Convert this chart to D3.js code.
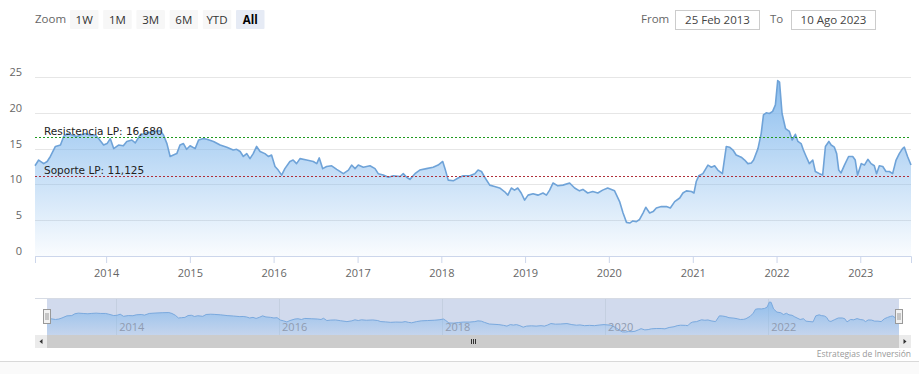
<!DOCTYPE html>
<html>
<head>
<meta charset="utf-8">
<script src="https://cdn.jsdelivr.net/npm/d3@7"></script>
<style>
  html, body { margin: 0; padding: 0; background: #fff; }
  svg { display: block; }
</style>
</head>
<body>
<svg id="chart" width="919" height="374"></svg>
<script>
// price series
const dates = [
  '2013-02-25','2013-03-13','2013-04-04','2013-04-19','2013-05-03','2013-05-25','2013-06-16','2013-06-30',
  '2013-07-15','2013-08-06','2013-08-27','2013-09-11','2013-10-03','2013-10-24','2013-11-15','2013-11-29',
  '2013-12-21','2014-01-05','2014-01-19','2014-02-03','2014-02-24','2014-03-17','2014-04-01','2014-04-23',
  '2014-05-08','2014-05-29','2014-06-28','2014-07-26','2014-08-25','2014-09-08','2014-09-23','2014-10-07',
  '2014-10-21','2014-11-05','2014-11-19','2014-12-04','2014-12-18','2015-01-02','2015-01-24','2015-02-08',
  '2015-03-01','2015-03-16','2015-04-14','2015-05-13','2015-06-11','2015-07-09','2015-07-24','2015-08-08',
  '2015-08-22','2015-09-06','2015-09-20','2015-10-04','2015-10-19','2015-11-03','2015-11-24','2015-12-09',
  '2015-12-23','2016-01-07','2016-01-21','2016-02-05','2016-02-19','2016-03-12','2016-03-26','2016-04-10',
  '2016-04-25','2016-05-24','2016-06-22','2016-07-07','2016-07-18','2016-08-02','2016-08-19','2016-09-10',
  '2016-10-02','2016-10-31','2016-11-22','2016-12-06','2016-12-21','2017-01-04','2017-01-26','2017-02-24',
  '2017-03-18','2017-04-01','2017-04-23','2017-05-15','2017-06-06','2017-07-05','2017-07-19','2017-08-03',
  '2017-08-17','2017-09-08','2017-09-29','2017-10-28','2017-11-26','2017-12-18','2018-01-07','2018-01-17',
  '2018-01-31','2018-02-22','2018-03-15','2018-04-06','2018-05-05','2018-05-27','2018-06-10','2018-06-25',
  '2018-07-09','2018-07-31','2018-08-21','2018-09-12','2018-10-03','2018-10-18','2018-11-02','2018-11-16',
  '2018-11-30','2018-12-15','2018-12-30','2019-01-14','2019-02-05','2019-02-26','2019-03-20','2019-04-04',
  '2019-04-18','2019-05-03','2019-05-24','2019-06-15','2019-07-14','2019-08-05','2019-08-26','2019-09-10',
  '2019-10-01','2019-10-23','2019-11-14','2019-12-05','2019-12-27','2020-01-26','2020-02-17','2020-03-03',
  '2020-03-18','2020-04-01','2020-04-15','2020-04-30','2020-05-14','2020-05-29','2020-06-10','2020-06-27',
  '2020-07-12','2020-07-26','2020-08-17','2020-09-08','2020-09-25','2020-10-14','2020-11-05','2020-11-19',
  '2020-12-04','2020-12-26','2021-01-06','2021-01-16','2021-01-27','2021-02-14','2021-03-08','2021-03-23',
  '2021-04-06','2021-04-20','2021-05-10','2021-05-27','2021-06-10','2021-06-25','2021-07-09','2021-07-31',
  '2021-08-15','2021-08-29','2021-09-13','2021-09-23','2021-10-12','2021-10-26','2021-11-05','2021-11-17',
  '2021-12-01','2021-12-15','2021-12-27','2022-01-06','2022-01-14','2022-01-25','2022-02-09','2022-02-26',
  '2022-03-10','2022-03-24','2022-04-04','2022-04-18','2022-04-28','2022-05-10','2022-05-24','2022-06-08',
  '2022-06-19','2022-07-07','2022-07-21','2022-08-02','2022-08-17','2022-08-27','2022-09-10','2022-09-20',
  '2022-09-29','2022-10-09','2022-10-24','2022-11-11','2022-11-29','2022-12-10','2022-12-20','2023-01-05',
  '2023-01-19','2023-02-03','2023-02-17','2023-03-03','2023-03-13','2023-03-25','2023-04-09','2023-04-23',
  '2023-05-08','2023-05-22','2023-06-06','2023-06-20','2023-07-04','2023-07-12','2023-07-26','2023-08-10'
];
const prices = [
  12.6,13.4,12.9,13.2,13.9,15.3,15.5,16.7, 17.1,16.9,16.7,16.9,17.1,16.9,16.9,16.4,
  15.5,15.7,16.4,15.0,15.5,15.4,16.0,16.2, 15.8,16.9,17.2,17.4,17.5,16.9,15.7,13.9,
  14.1,14.3,15.5,15.7,14.9,15.4,15.0,16.2, 16.4,16.3,16.0,15.5,15.2,14.8,14.9,14.6,
  13.9,14.3,13.6,14.3,15.3,14.6,14.3,13.9, 14.1,12.5,12.0,11.3,12.2,13.2,13.4,12.9,
  13.6,13.4,13.2,12.9,13.7,12.2,12.5,12.6, 12.1,11.5,12.0,12.7,12.2,12.7,12.4,12.6,
  12.2,11.5,11.3,11.0,11.2,11.1,11.5,11.0, 10.7,11.5,12.0,12.2,12.4,12.7,13.2,12.2,
  10.6,10.5,10.9,11.2,11.2,11.5,12.0,11.8, 11.0,9.9,9.7,9.5,9.0,8.5,9.5,9.2,
  9.5,8.8,7.8,8.5,8.7,8.5,8.8,8.5, 9.2,10.2,9.8,9.9,10.2,9.5,9.1,9.3,
  8.8,9.0,8.8,9.2,9.5,9.1,7.6,6.0, 4.7,4.6,4.9,4.8,5.1,6.0,6.8,6.0,
  6.2,6.7,6.9,6.9,6.7,7.6,8.1,8.8, 9.1,9.0,8.8,10.4,11.2,11.5,12.7,12.4,
  12.6,12.0,11.5,15.3,15.2,14.8,14.1,13.8, 13.4,12.9,13.0,13.4,15.0,17.1,19.7,20.0,
  19.9,20.2,21.1,24.5,24.3,19.9,17.8,17.4, 16.2,17.0,16.0,15.7,14.8,13.9,12.9,13.4,
  11.8,11.5,11.3,15.3,16.0,15.5,15.2,14.3, 12.0,11.6,12.7,13.9,13.9,13.4,11.3,12.9,
  12.7,13.5,12.9,12.6,11.5,12.6,12.5,11.8, 11.8,11.5,13.4,14.3,15.0,15.2,13.9,12.7
];

const resistance = { label: 'Resistencia LP: 16,680', value: 16.68 };
const support = { label: 'Soporte LP: 11,125', value: 11.125 };
const yTicks = [0, 5, 10, 15, 20, 25];
const navTickYears = [2014, 2016, 2018, 2020, 2022];
const zoomButtons = ['1W', '1M', '3M', '6M', 'YTD', 'All'];
const fromText = '25 Feb 2013';
const toText = '10 Ago 2023';
const creditText = 'Estrategias de Inversión';

const parse = d3.timeParse('%Y-%m-%d');
const series = dates.map((d, i) => ({ date: parse(d), value: prices[i] }));

const svg = d3.select('#chart');
const uiFont = '"Open Sans", sans-serif';
const lineColor = '#6fa3d8';

// layout
const plot = { left: 35, right: 911, top: 77, bottom: 256 };
const nav = { left: 47, right: 899, top: 299, bottom: 335 };
const sb = { top: 335, bottom: 348 };

const x = d3.scaleTime()
  .domain(d3.extent(series, d => d.date))
  .range([plot.left, plot.right]);
const y = d3.scaleLinear().domain([0, 25]).range([plot.bottom, plot.top]);

// bottom strip
svg.append('rect').attr('x', 0).attr('y', 361).attr('width', 919).attr('height', 13).attr('fill', '#fafafa');
svg.append('line').attr('x1', 0).attr('x2', 919).attr('y1', 361.5).attr('y2', 361.5)
  .style('stroke', '#d9d9d9');

// range selector
svg.append('text').attr('x', 35).attr('y', 23).text('Zoom')
  .style('font-family', uiFont).style('font-size', '11.5px').style('fill', '#666');
const btn = svg.selectAll('g.btn').data(zoomButtons).enter().append('g')
  .attr('class', 'btn')
  .attr('transform', (d, i) => `translate(${70 + i * 33.2},10)`);
btn.append('rect').attr('width', 28.5).attr('height', 19).attr('rx', 1)
  .attr('fill', d => d === 'All' ? '#e6ebf5' : '#f7f7f7');
btn.append('text').attr('x', 14.2).attr('y', 13.5).attr('text-anchor', 'middle')
  .text(d => d)
  .style('font-family', uiFont).style('font-size', '11.5px')
  .style('font-weight', d => d === 'All' ? 'bold' : 'normal')
  .style('fill', d => d === 'All' ? '#000' : '#333');

const inputs = [
  { label: 'From', lx: 641, bx: 675, text: fromText },
  { label: 'To', lx: 770, bx: 791, text: toText }
];
inputs.forEach(o => {
  svg.append('text').attr('x', o.lx).attr('y', 23).text(o.label)
    .style('font-family', uiFont).style('font-size', '11.5px').style('fill', '#666');
  svg.append('rect').attr('x', o.bx + 0.5).attr('y', 10.5).attr('width', 84).attr('height', 19)
    .attr('fill', '#fff').style('stroke', '#cccccc');
  svg.append('text').attr('x', o.bx + 42.5).attr('y', 24).attr('text-anchor', 'middle').text(o.text)
    .style('font-family', uiFont).style('font-size', '11.5px').style('fill', '#444');
});

// gridlines + y labels
svg.append('g').selectAll('line').data(yTicks).enter().append('line')
  .attr('x1', plot.left).attr('x2', plot.right)
  .attr('y1', d => Math.round(y(d)) + 0.5).attr('y2', d => Math.round(y(d)) + 0.5)
  .style('stroke', '#e6e6e6');
svg.append('g').selectAll('text').data(yTicks).enter().append('text')
  .attr('x', 22).attr('y', d => y(d) - 1).attr('text-anchor', 'end')
  .text(d => d)
  .style('font-family', uiFont).style('font-size', '11px').style('fill', '#666');

// area gradient
const defs = svg.append('defs');
const grad = defs.append('linearGradient').attr('id', 'areaGrad')
  .attr('gradientUnits', 'userSpaceOnUse')
  .attr('x1', 0).attr('x2', 0).attr('y1', plot.top).attr('y2', plot.bottom);
grad.append('stop').attr('offset', 0).attr('stop-color', '#7cb5ec').attr('stop-opacity', 0.9);
grad.append('stop').attr('offset', 1).attr('stop-color', '#7cb5ec').attr('stop-opacity', 0.04);

const area = d3.area().x(d => x(d.date)).y0(plot.bottom).y1(d => y(d.value));
const line = d3.line().x(d => x(d.date)).y(d => y(d.value));
svg.append('path').datum(series).attr('d', area).attr('fill', 'url(#areaGrad)');
svg.append('path').datum(series).attr('d', line)
  .attr('fill', 'none').style('stroke', lineColor).style('stroke-width', 1.6)
  .style('stroke-linejoin', 'round');

// x axis
const xAxis = d3.axisBottom(x).ticks(d3.timeYear.every(1)).tickFormat(d3.timeFormat('%Y'))
  .tickSize(7).tickPadding(6);
const gx = svg.append('g').attr('transform', `translate(0,${plot.bottom})`).call(xAxis);
gx.select('.domain').style('stroke', '#ccd6eb');
gx.selectAll('.tick line').style('stroke', '#ccd6eb');
gx.selectAll('.tick text').style('font-family', uiFont).style('font-size', '11px').style('fill', '#666');
gx.selectAll('.tick').filter(d => d.getFullYear() === 2013).remove();

// support / resistance
[
  { lvl: resistance, color: '#1e9a1e' },
  { lvl: support, color: '#b0303a' }
].forEach(o => {
  const yy = Math.round(y(o.lvl.value)) + 0.5;
  svg.append('line').attr('x1', plot.left).attr('x2', plot.right).attr('y1', yy).attr('y2', yy)
    .style('stroke', o.color).style('stroke-width', 1).style('stroke-dasharray', '2,2');
  svg.append('text').attr('x', 44).attr('y', yy - 3).text(o.lvl.label)
    .style('font-family', '"DejaVu Sans", sans-serif').style('font-size', '10.5px').style('fill', '#222');
});

// navigator
const nx = d3.scaleTime().domain(x.domain()).range([nav.left, nav.right]);
const vmin = d3.min(prices), vmax = d3.max(prices), pad = (vmax - vmin) * 0.1;
const ny = d3.scaleLinear().domain([vmin - pad, vmax + pad]).range([nav.bottom, nav.top]);

svg.append('rect').attr('x', nav.left).attr('y', nav.top).attr('width', nav.right - nav.left)
  .attr('height', nav.bottom - nav.top).attr('fill', 'rgba(102,133,194,0.3)');
svg.append('g').selectAll('line').data(navTickYears).enter().append('line')
  .attr('x1', d => Math.round(nx(new Date(d, 0, 1))) + 0.5)
  .attr('x2', d => Math.round(nx(new Date(d, 0, 1))) + 0.5)
  .attr('y1', nav.top).attr('y2', nav.bottom)
  .style('stroke', '#c4cfe0');

const navGrad = defs.append('linearGradient').attr('id', 'navGrad')
  .attr('gradientUnits', 'userSpaceOnUse')
  .attr('x1', 0).attr('x2', 0).attr('y1', nav.top).attr('y2', nav.bottom);
navGrad.append('stop').attr('offset', 0).attr('stop-color', '#7cb5ec').attr('stop-opacity', 0.8);
navGrad.append('stop').attr('offset', 1).attr('stop-color', '#7cb5ec').attr('stop-opacity', 0.15);
const navArea = d3.area().x(d => nx(d.date)).y0(nav.bottom).y1(d => ny(d.value));
const navLine = d3.line().x(d => nx(d.date)).y(d => ny(d.value));
svg.append('path').datum(series).attr('d', navArea).attr('fill', 'url(#navGrad)');
svg.append('path').datum(series).attr('d', navLine)
  .attr('fill', 'none').style('stroke', '#7aa9de').style('stroke-width', 1);

svg.append('g').selectAll('text').data(navTickYears).enter().append('text')
  .attr('x', d => nx(new Date(d, 0, 1)) + 3).attr('y', 331)
  .text(d => d)
  .style('font-family', uiFont).style('font-size', '11px').style('fill', '#8f9bb0');

svg.append('line').attr('x1', plot.left).attr('x2', plot.right)
  .attr('y1', nav.top - 0.5).attr('y2', nav.top - 0.5).style('stroke', '#d6dbe4');

// handles
[nav.left, nav.right].forEach(hx => {
  svg.append('rect').attr('x', hx - 3.5).attr('y', 309.5).attr('width', 7).attr('height', 14)
    .attr('fill', '#f2f2f2').style('stroke', '#999');
  [-1, 1].forEach(k => {
    svg.append('line').attr('x1', hx + k).attr('x2', hx + k).attr('y1', 313).attr('y2', 320)
      .style('stroke', '#999');
  });
});

// scrollbar
svg.append('rect').attr('x', plot.left).attr('y', sb.top).attr('width', plot.right - plot.left)
  .attr('height', sb.bottom - sb.top).attr('fill', '#f2f2f2');
svg.append('rect').attr('x', nav.left).attr('y', sb.top).attr('width', nav.right - nav.left)
  .attr('height', sb.bottom - sb.top).attr('fill', '#cccccc');
[{ x0: plot.left, dir: -1 }, { x0: nav.right, dir: 1 }].forEach(b => {
  svg.append('rect').attr('x', b.x0).attr('y', sb.top).attr('width', 12).attr('height', sb.bottom - sb.top)
    .attr('fill', '#ebebeb');
  const cx = b.x0 + 6, cy = (sb.top + sb.bottom) / 2;
  svg.append('path')
    .attr('d', `M${cx - 1.5 * b.dir},${cy - 2.5}L${cx + 1.5 * b.dir},${cy}L${cx - 1.5 * b.dir},${cy + 2.5}Z`)
    .attr('fill', '#333');
});
const mid = (nav.left + nav.right) / 2;
[-2, 0, 2].forEach(k => {
  svg.append('line').attr('x1', mid + k + 0.5).attr('x2', mid + k + 0.5)
    .attr('y1', sb.top + 4).attr('y2', sb.bottom - 4).style('stroke', '#333');
});

// credit
svg.append('text').attr('x', plot.right).attr('y', 357).attr('text-anchor', 'end').text(creditText)
  .style('font-family', uiFont).style('font-size', '8.5px').style('fill', '#999');
</script>
</body>
</html>
